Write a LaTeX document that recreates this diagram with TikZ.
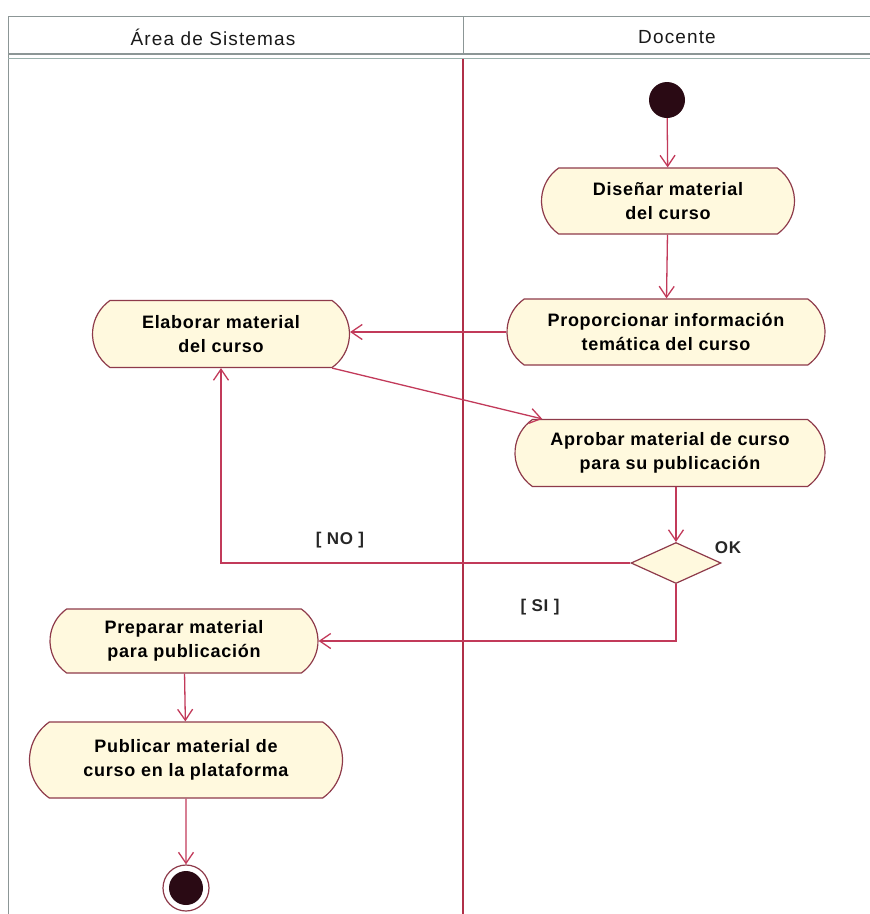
\documentclass[tikz,border=0pt]{standalone}
\usepackage{fontspec}
\setmainfont{Liberation Sans}
\newfontfamily\boxfont[LetterSpace=4]{Liberation Sans}
\newfontfamily\headfont[LetterSpace=6]{Liberation Sans}
\usetikzlibrary{shapes.misc,shapes.geometric,arrows.meta}
\definecolor{actfill}{HTML}{FFF9DE}
\definecolor{actline}{HTML}{8E3A4A}
\definecolor{flow}{HTML}{C23A5A}
\definecolor{lane}{HTML}{B03048}
\definecolor{hdr}{HTML}{8C9696}
\definecolor{hdrb}{HTML}{9AB0AC}
\definecolor{dot}{HTML}{2A0A14}
\tikzset{
  act/.style={rounded rectangle, rounded rectangle arc length=110, draw=actline,
    line width=1.2pt, fill=actfill, align=center, inner sep=0pt,
    font=\boxfont\fontsize{18}{24.5}\selectfont\bfseries},
  dec/.style={diamond, draw=actline, line width=1.2pt, fill=actfill,
    minimum width=90pt, minimum height=41pt, inner sep=0pt},
  arr/.style={draw=flow, line width=1.3pt,
    -{Straight Barb[length=11pt,width=15pt,line width=1.3pt]}},
  lbl/.style={font=\boxfont\fontsize{17}{20}\selectfont\bfseries, text=black!85},
  head/.style={font=\headfont\fontsize{19}{22}\selectfont, text=black!90}
}
\begin{document}
\begin{tikzpicture}[x=1pt,y=-1pt]
\useasboundingbox (0,0) rectangle (870,914);
% swimlane frame and header
\draw[hdr, line width=1pt] (8,914) -- (8,16) -- (870,16);
\draw[hdr, line width=1.4pt] (8,54) -- (870,54);
\draw[hdrb, line width=1.4pt] (8,58.5) -- (870,58.5);
\draw[hdr, line width=1pt] (463,16) -- (463,54);
\draw[lane, line width=1.2pt] (463,59) -- (463,914);
\node[head] (h1) at (213,37) {Área de Sistemas};
\node[head] (h2) at (677,37) {Docente};

% activities
\node[circle, fill=dot, minimum size=36pt, inner sep=0pt] (ini) at (667,100) {};
\node[act, minimum width=253pt, minimum height=66pt] (dis) at (668,201) {Diseñar material\\del curso};
\node[act, minimum width=318pt, minimum height=66pt] (prop) at (666,332) {Proporcionar información\\temática del curso};
\node[act, minimum width=257pt, minimum height=67pt] (elab) at (221,334) {Elaborar material\\del curso};
\node[act, minimum width=310pt, minimum height=67pt] (apr) at (670,453) {Aprobar material de curso\\para su publicación};
\node[dec] (ok) at (676,563) {};
\node[act, minimum width=268pt, minimum height=64pt] (prep) at (184,641) {Preparar material\\para publicación};
\node[act, minimum width=313pt, minimum height=76pt] (pub) at (186,760) {Publicar material de\\curso en la plataforma};
\node[circle, draw=actline, line width=1.2pt, fill=white, minimum size=46pt, inner sep=0pt] (fin) at (186,888) {};
\node[circle, fill=dot, minimum size=34pt, inner sep=0pt] (finc) at (fin.center) {};

% guard labels
\node[lbl] (gno) at (340,540) {[ NO ]};
\node[lbl] (gsi) at (540,607) {[ SI ]};
\node[lbl] (gok) at (728,548) {OK};

% control flows
\draw[arr] (ini) -- (dis);
\draw[arr] (dis) -- (prop);
\draw[arr] (prop.west) -- (prop.west -| elab.east);
\draw[arr] (elab.south east) -- ([xshift=10pt]apr.north west);
\draw[arr] (ok.north |- apr.south) -- (ok.north);
\draw[arr] (ok.west) -| (elab.south);
\draw[arr] (ok.south) |- (prep.east);
\draw[arr] (prep) -- (pub);
\draw[arr] (pub) -- (fin);
\end{tikzpicture}
\end{document}
